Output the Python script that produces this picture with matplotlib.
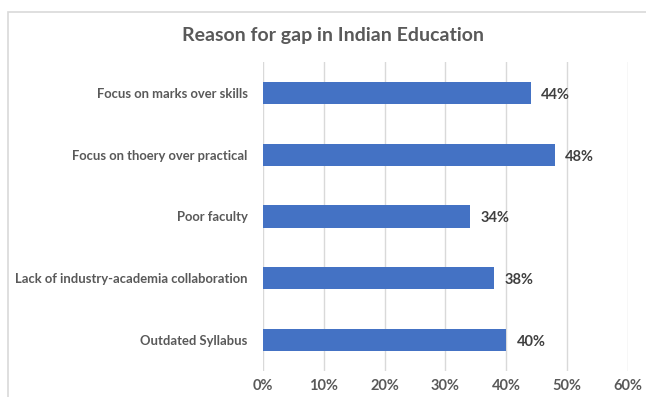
import matplotlib.pyplot as plt
import matplotlib.ticker as ticker
from matplotlib.patches import Rectangle

categories = [
    "Focus on marks over skills",
    "Focus on thoery over practical",
    "Poor faculty",
    "Lack of industry-academia collaboration",
    "Outdated Syllabus",
]
values = [0.44, 0.48, 0.34, 0.38, 0.40]
xticks = [0, 0.1, 0.2, 0.3, 0.4, 0.5, 0.6]

plt.rcParams["font.family"] = ["Lato", "DejaVu Sans"]

W, H = 646, 397
fig = plt.figure(figsize=(W / 100, H / 100), dpi=100)

# chart frame (cut at right and bottom like the screenshot)
fig.patches.append(Rectangle((8 / W, -0.1), 1.2, 1 - 11.5 / H + 0.1,
                             transform=fig.transFigure, fill=False,
                             edgecolor="#d9d9d9", linewidth=1.2))

ax = fig.add_axes([263 / W, 1 - 371 / H, (628 - 263) / W, (371 - 62) / H])

ypos = list(range(len(categories)))
ax.barh(ypos, values, height=0.36, color="#4472c4", zorder=3)
ax.set_ylim(len(categories) - 0.5, -0.5)
ax.set_xlim(0, 0.6)
ax.set_xticks(xticks)
ax.xaxis.set_major_formatter(ticker.FuncFormatter(lambda v, _: f"{v * 100:.0f}%"))
ax.set_yticks(ypos)
ax.set_yticklabels(categories)

for y, v in zip(ypos, values):
    ax.text(v + 0.017, y + 0.03, f"{v * 100:.0f}%", va="center", ha="left",
            fontsize=10.5, fontweight="bold", color="#404040")

ax.grid(axis="x", color="#d9d9d9", linewidth=1, zorder=0)
for s in ax.spines.values():
    s.set_visible(False)
ax.tick_params(axis="both", length=0, colors="#595959")
ax.tick_params(axis="x", labelsize=10.5, pad=6)
ax.tick_params(axis="y", labelsize=9.4, pad=11)
for lab in ax.get_yticklabels():
    lab.set_fontweight("bold")
for lab in ax.get_xticklabels():
    lab.set_fontweight("bold")

fig.text(333 / W, 1 - 35 / H, "Reason for gap in Indian Education", ha="center",
         va="center", fontsize=14, fontweight="bold", color="#595959")

fig.savefig("out.png", dpi=100)
